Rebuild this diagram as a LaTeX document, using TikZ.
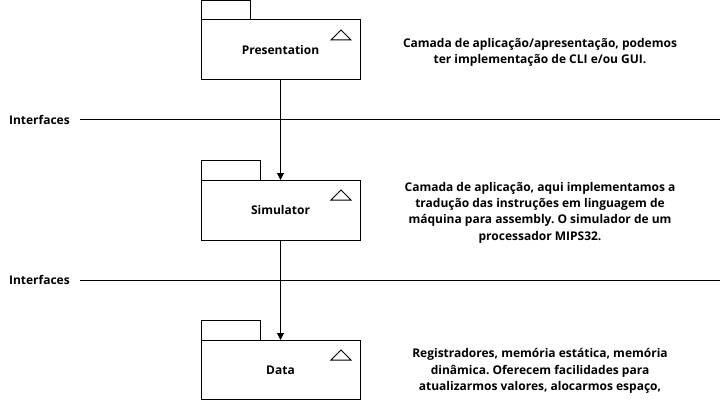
\documentclass[tikz,border=0pt]{standalone}
\usepackage{fontspec}
\setmainfont{Open Sans}
\usetikzlibrary{arrows.meta}
\frenchspacing
\begin{document}
\begin{tikzpicture}[x=1pt,y=-1pt,
  pkg/.style={draw=black,line width=1pt},
  lbl/.style={font=\fontsize{12}{14}\selectfont\bfseries},
  desc/.style={font=\fontsize{12}{16.4}\selectfont\bfseries,align=center},
  conn/.style={draw=black,line width=1pt,-{Triangle[length=7pt,width=7pt]}},
  sep/.style={draw=black,line width=1pt}]
\useasboundingbox (0,0) rectangle (722,401);
% Presentation
\draw[pkg] (201,1) rectangle (250,20);
\draw[pkg] (201,20) rectangle (360,80);
\draw[pkg] (331,40) -- (341,30) -- (351,40) -- cycle;
\node[lbl] (pres) at (280.5,50) {Presentation};
\coordinate (presB) at (280.5,80);
% Simulator
\draw[pkg] (201,160) rectangle (260,180);
\draw[pkg] (201,180) rectangle (360,240);
\draw[pkg] (331,200) -- (341,190) -- (351,200) -- cycle;
\node[lbl] (sim) at (280.5,210) {Simulator};
\coordinate (simT) at (280.5,180);
\coordinate (simB) at (280.5,240);
% Data
\draw[pkg] (201,320) rectangle (260,340);
\draw[pkg] (201,340) rectangle (360,399.5);
\draw[pkg] (331,360) -- (341,350) -- (351,360) -- cycle;
\node[lbl] (data) at (280.5,370) {Data};
\coordinate (dataT) at (280.5,340);
% connectors
\draw[conn] (presB) -- (simT);
\draw[conn] (simB) -- (dataT);
% interfaces
\node[lbl,anchor=west] (if1) at (5.5,120) {Interfaces};
\coordinate (l1a) at (80,120); \coordinate (l1b) at (720,120);
\draw[sep] (l1a) -- (l1b);
\node[lbl,anchor=west] (if2) at (5.5,280) {Interfaces};
\coordinate (l2a) at (80,280); \coordinate (l2b) at (720,280);
\draw[sep] (l2a) -- (l2b);
% descriptions
\node[desc] (d1) at (540,52.5) {Camada de aplicação/apresentação, podemos\\ter implementação de CLI e/ou GUI.};
\node[desc] (d2) at (540,212.5) {Camada de aplicação, aqui implementamos a\\tradução das instruções em linguagem de\\máquina para assembly. O simulador de um\\processador MIPS32.};
\node[desc] (d3) at (540,371) {Registradores, memória estática, memória\\dinâmica. Oferecem facilidades para\\atualizarmos valores, alocarmos espaço,};
\end{tikzpicture}
\end{document}
